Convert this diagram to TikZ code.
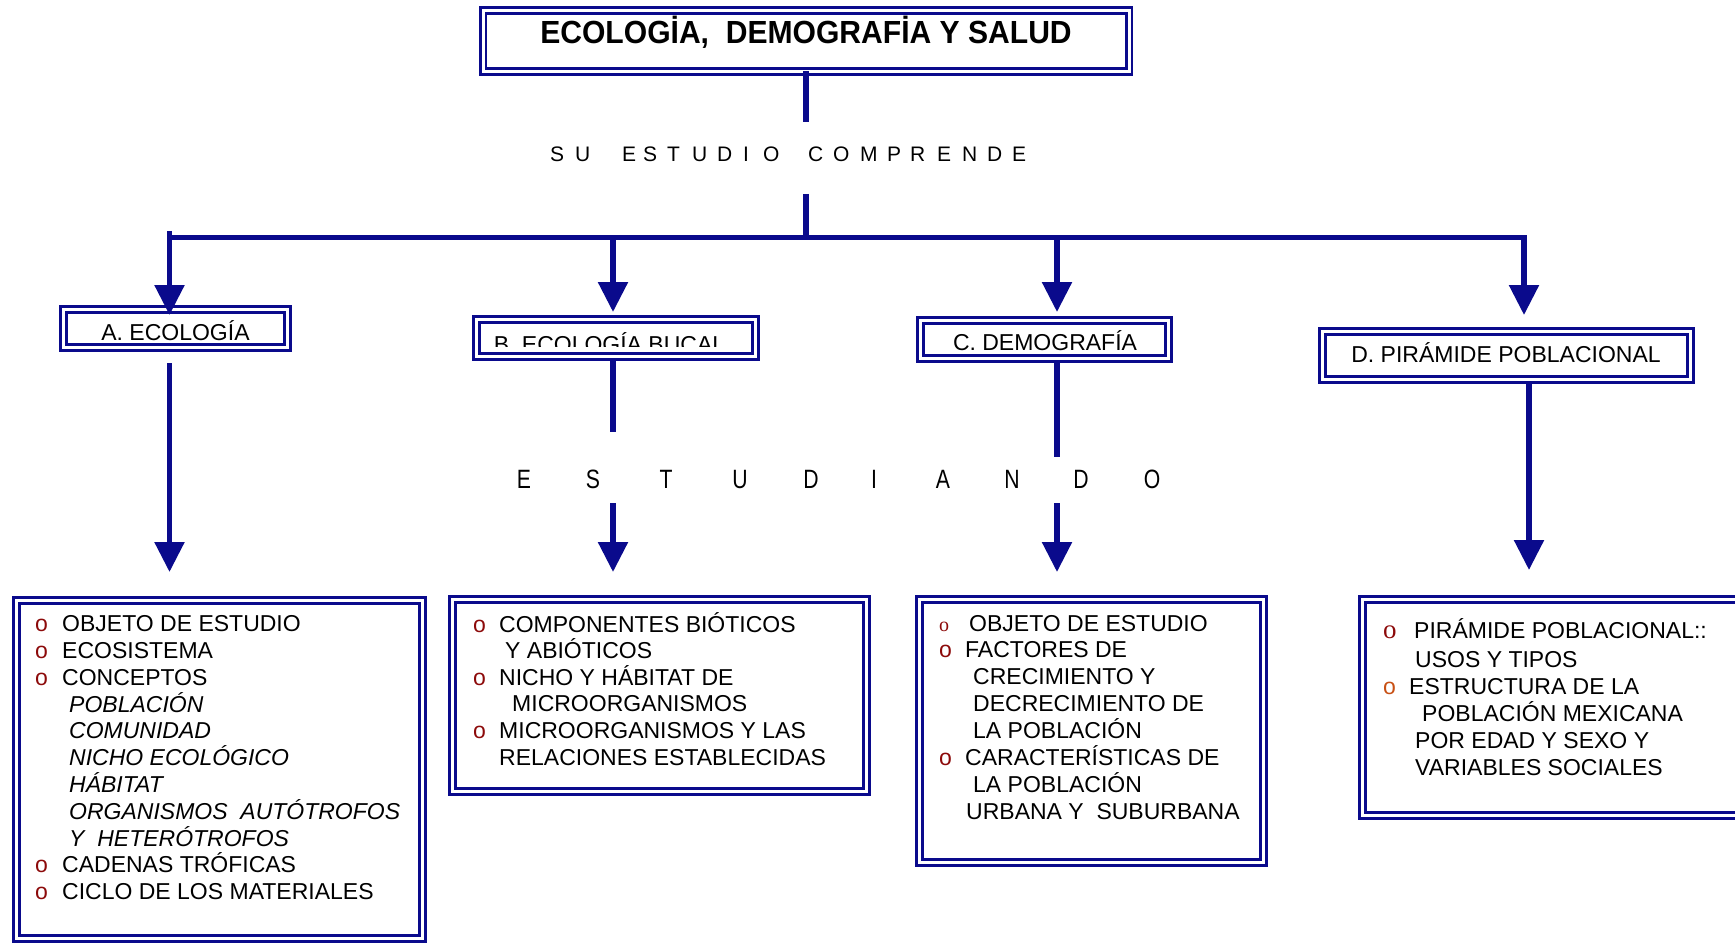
\documentclass[tikz,border=0pt]{standalone}
\usepackage{fontspec}
\usepackage{graphicx}
\setmainfont{Liberation Sans}
\newfontfamily\serifb{Liberation Serif}
\usetikzlibrary{arrows.meta}
\definecolor{dnavy}{RGB}{10,10,140}
\definecolor{bred}{RGB}{140,10,10}
\definecolor{bora}{RGB}{200,80,20}
\newcommand\bl[1]{\makebox[#1][l]{\color{bred}o}}
\tikzset{
  dbox/.style={draw=dnavy, double=white, line width=2.9pt, double distance=3pt, inner sep=0pt, outer sep=0pt},
  conn/.style={draw=dnavy, line width=5.5pt},
  arr/.style={conn, -{Triangle[width=29pt,length=30pt]}},
  lab/.style={anchor=base, inner sep=0pt, font=\fontsize{23}{27}\selectfont},
  ltr/.style={anchor=base west, inner sep=0pt, font=\fontsize{21}{21}\selectfont},
  ltr2/.style={anchor=base, inner sep=0pt, font=\fontsize{26.5}{26.5}\selectfont},
  body/.style={anchor=base west, inner sep=0pt},
}
\begin{document}
\begin{tikzpicture}[x=1pt,y=-1pt]
\useasboundingbox (0,0) rectangle (1735,944);
% boxes
\node[dbox, minimum width=646pt, minimum height=61pt] (title) at (806,41) {};
\node[dbox, minimum width=224pt, minimum height=38pt] (A) at (175.5,328.5) {};
\node[dbox, minimum width=279pt, minimum height=37pt] (B) at (616,338) {};
\node[dbox, minimum width=248pt, minimum height=38pt] (C) at (1044.5,339.5) {};
\node[dbox, minimum width=368pt, minimum height=48pt] (D) at (1506.5,355.5) {};
\node[dbox, minimum width=406pt, minimum height=338pt] (BA) at (219.5,769.5) {};
\node[dbox, minimum width=414pt, minimum height=192pt] (BB) at (659.5,695.5) {};
\node[dbox, minimum width=344pt, minimum height=263pt] (BC) at (1091.5,731) {};
\node[dbox, minimum width=378pt, minimum height=216pt] (BD) at (1551.5,707.5) {};
% title
\node[anchor=base, inner sep=0pt, font=\bfseries\fontsize{32}{32}\selectfont] (titletxt) at (806,44) {\scalebox{0.94}[1]{ECOLOGİA,~~DEMOGRAFİA Y SALUD}};
% labels
\node[lab] (Atxt) at (175.5,340) {A. ECOLOGÍA};
\begin{scope}
  \clip (476,320) rectangle (756,346);
  \node[lab] (Btxt) at (609.5,352) {B. ECOLOGÍA BUCAL};
\end{scope}
\node[lab] (Ctxt) at (1045,350) {C. DEMOGRAFÍA};
\node[lab] (Dtxt) at (1506,362) {D. PIRÁMIDE POBLACIONAL};
% SU ESTUDIO COMPRENDE
\foreach \x/\l [count=\i] in {550/S,575/U,622/E,643/S,667/T,692/U,717/D,743/I,763/O,808/C,833/O,860/M,887/P,910/R,937/E,962/N,987/D,1012/E}
  \node[ltr] (su\i) at (\x,162) {\l};
% ESTUDIANDO
\foreach \x/\l [count=\i] in {524/E,593/S,666/T,740/U,811/D,874/I,943/A,1012/N,1081/D,1152/O}
  \node[ltr2] (es\i) at (\x,488) {\scalebox{0.8}[1]{\l}};
% connectors
\coordinate (t1) at (806,122);
\coordinate (t2) at (806,194);
\coordinate (bm) at (806,237.5);
\draw[conn] (title.south) -- (t1);
\draw[conn] (t2) -- (bm);
\coordinate (bL) at (167,237.5);
\coordinate (bR) at (1526.75,237.5);
\draw[conn] (bL) -- (bR);
\coordinate (jA) at (169.5,231);
\coordinate (jB) at (613,237.5);
\coordinate (jC) at (1057,237.5);
\coordinate (jD) at (1524,237.5);
\coordinate (tipA1) at (169.5,315);
\coordinate (tipB1) at (613,312);
\coordinate (tipC1) at (1057,312);
\coordinate (tipD1) at (1524,315);
\draw[arr] (jA) -- (tipA1);
\draw[arr] (jB) -- (tipB1);
\draw[arr] (jC) -- (tipC1);
\draw[arr] (jD) -- (tipD1);
% lower connectors
\coordinate (sA) at (169.5,363);
\coordinate (tipA2) at (169.5,572);
\draw[arr] (sA) -- (tipA2);
\coordinate (sB) at (613,361);
\coordinate (eB) at (613,432);
\draw[conn] (sB) -- (eB);
\coordinate (sB2) at (613,503);
\coordinate (tipB2) at (613,572);
\draw[arr] (sB2) -- (tipB2);
\coordinate (sC) at (1057,363);
\coordinate (eC) at (1057,457);
\draw[conn] (sC) -- (eC);
\coordinate (sC2) at (1057,503);
\coordinate (tipC2) at (1057,572);
\draw[arr] (sC2) -- (tipC2);
\coordinate (sD) at (1529,384);
\coordinate (tipD2) at (1529,570);
\draw[arr] (sD) -- (tipD2);
% box A text
\node[body] (BAtxt) at (35,631.7) {\parbox[t]{390pt}{\fontsize{23}{26.8}\selectfont\lineskiplimit=-100pt
\bl{27pt}OBJETO DE ESTUDIO\\
\bl{27pt}ECOSISTEMA\\
\bl{27pt}CONCEPTOS\\
\hspace*{34pt}\textit{POBLACIÓN}\\
\hspace*{34pt}\textit{COMUNIDAD}\\
\hspace*{34pt}\textit{NICHO ECOLÓGICO}\\
\hspace*{34pt}\textit{HÁBITAT}\\
\hspace*{34pt}\textit{ORGANISMOS\ \ AUTÓTROFOS}\\
\hspace*{34pt}\textit{Y\ \ HETERÓTROFOS}\\
\bl{27pt}CADENAS TRÓFICAS\\
\bl{27pt}CICLO DE LOS MATERIALES}};
% box B text
\node[body] (BBtxt) at (473,632) {\parbox[t]{395pt}{\fontsize{23}{26.6}\selectfont\lineskiplimit=-100pt
\bl{26pt}COMPONENTES BIÓTICOS\\
\hspace*{32pt}Y ABIÓTICOS\\
\bl{26pt}NICHO Y HÁBITAT DE\\
\hspace*{39pt}MICROORGANISMOS\\
\bl{26pt}MICROORGANISMOS Y LAS\\
\hspace*{26pt}RELACIONES ESTABLECIDAS}};
% box C text
\node[body] (BCtxt) at (939,631) {\parbox[t]{320pt}{\fontsize{23}{26.9}\selectfont\lineskiplimit=-100pt
\makebox[30pt][l]{\serifb\fontsize{20}{20}\selectfont\color{bred}o}OBJETO DE ESTUDIO\\
\bl{26pt}FACTORES DE\\
\hspace*{34pt}CRECIMIENTO Y\\
\hspace*{34pt}DECRECIMIENTO DE\\
\hspace*{34pt}LA POBLACIÓN\\
\bl{26pt}CARACTERÍSTICAS DE\\
\hspace*{34pt}LA POBLACIÓN\\
\hspace*{27pt}URBANA Y\ \ SUBURBANA}};
% box D text
\node[body] (BDtxt) at (1383,638) {\parbox[t]{350pt}{\fontsize{23}{27.2}\selectfont\lineskiplimit=-100pt
\makebox[31pt][l]{\serifb\fontsize{27}{27}\selectfont\color{bred}o}PIRÁMIDE POBLACIONAL::\\[1.8pt]
\hspace*{32pt}USOS Y TIPOS\\
\makebox[26pt][l]{\color{bora}o}ESTRUCTURA DE LA\\
\hspace*{39pt}POBLACIÓN MEXICANA\\
\hspace*{32pt}POR EDAD Y SEXO Y\\
\hspace*{32pt}VARIABLES SOCIALES}};
\end{tikzpicture}
\end{document}
